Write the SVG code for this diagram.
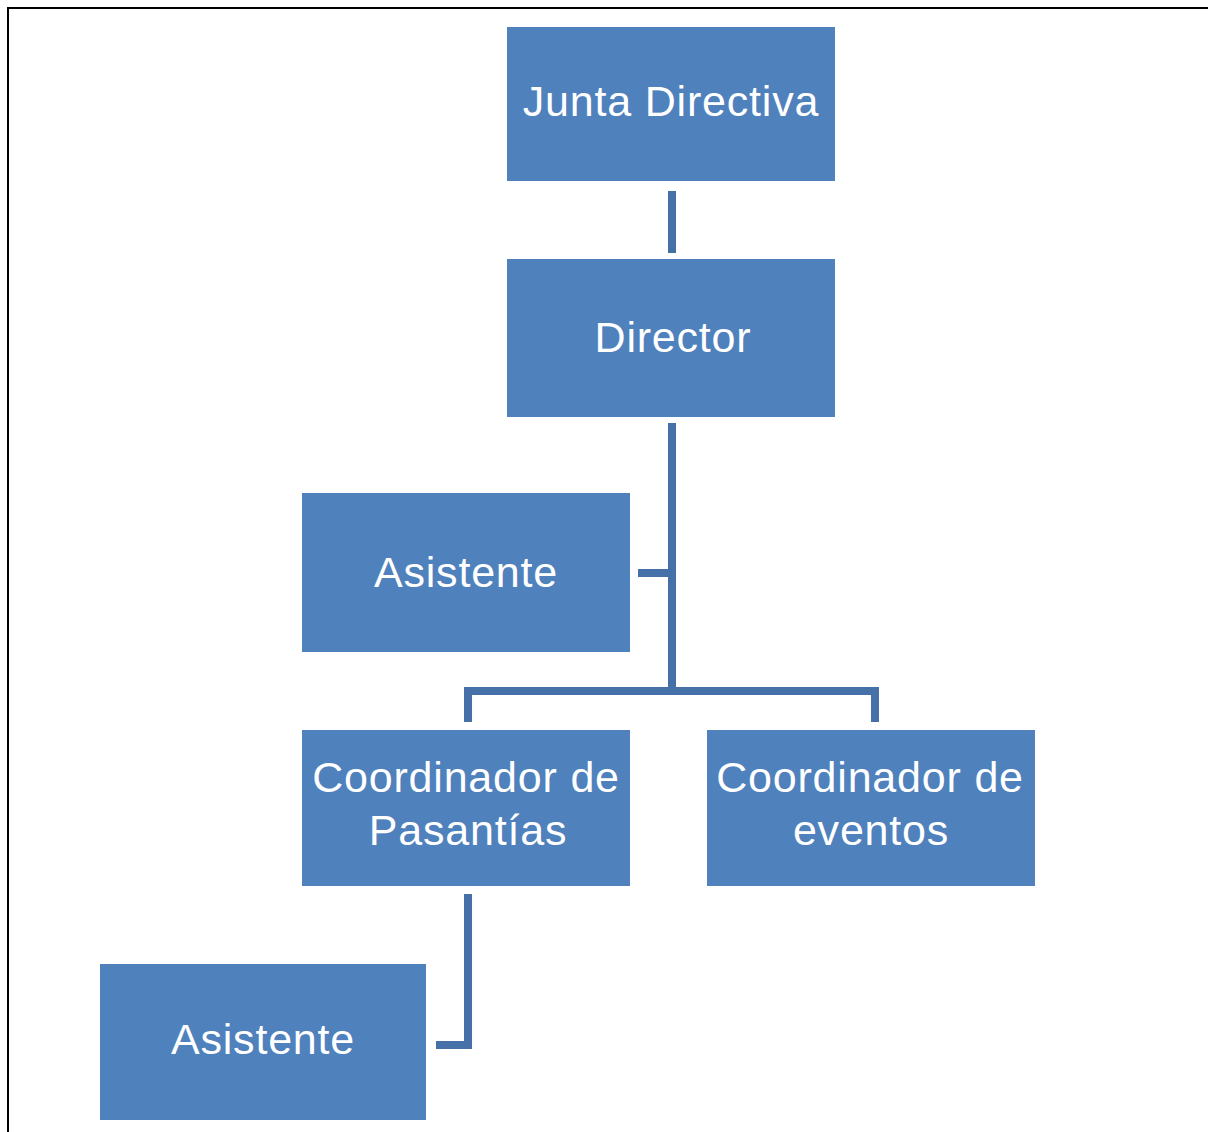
<svg xmlns="http://www.w3.org/2000/svg" width="1208" height="1132" viewBox="0 0 1208 1132">
<style>
.box{fill:#4f81bd;}
.lbl{font-family:"Liberation Sans",Arial,sans-serif;font-size:43px;letter-spacing:0.8px;fill:#ffffff;text-anchor:middle;}
.con{fill:none;stroke:#4670a8;stroke-width:8;stroke-linejoin:miter;}
</style>
<rect x="0" y="0" width="1208" height="1132" fill="#ffffff"/>
<path d="M8 1132 V8 H1208" fill="none" stroke="#000000" stroke-width="2"/>
<g id="connectors">
<path class="con" d="M672 191 V253"/>
<path class="con" d="M672 423 V690"/>
<path class="con" d="M638 573 H672"/>
<path class="con" d="M468 722 V691 H875 V722"/>
<path class="con" d="M468 894 V1045 H436"/>
</g>
<g id="junta"><rect class="box" x="507" y="27" width="328" height="154"/><text class="lbl" x="671" y="116">Junta Directiva</text></g>
<g id="director"><rect class="box" x="507" y="259" width="328" height="158"/><text class="lbl" x="673" y="352">Director</text></g>
<g id="asistente1"><rect class="box" x="302" y="493" width="328" height="159"/><text class="lbl" x="466" y="587">Asistente</text></g>
<g id="coord-pasantias"><rect class="box" x="302" y="730" width="328" height="156"/><text class="lbl" x="466" y="792">Coordinador de</text><text class="lbl" x="468" y="845">Pasantías</text></g>
<g id="coord-eventos"><rect class="box" x="707" y="730" width="328" height="156"/><text class="lbl" x="870" y="792">Coordinador de</text><text class="lbl" x="871" y="845">eventos</text></g>
<g id="asistente2"><rect class="box" x="100" y="964" width="326" height="156"/><text class="lbl" x="263" y="1054">Asistente</text></g>
</svg>
